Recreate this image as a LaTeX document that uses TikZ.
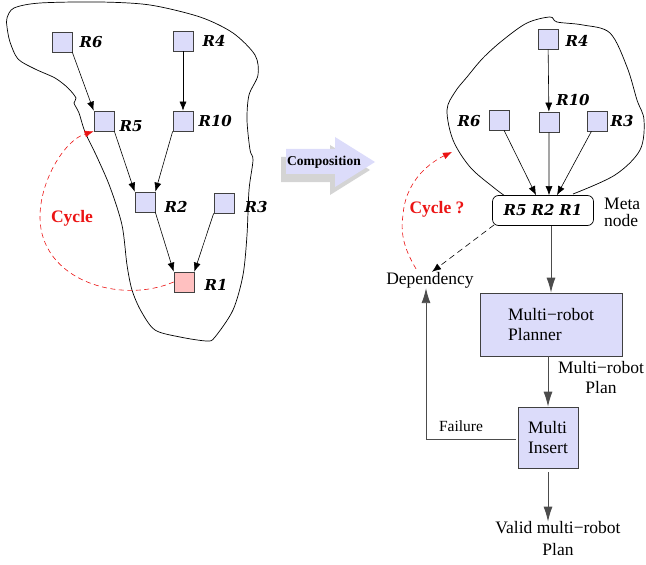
\documentclass[tikz,border=0pt]{standalone}
\usepackage{fontspec}
\setmainfont{Liberation Serif}
\newfontfamily\rfont{DejaVu Serif}
\usetikzlibrary{arrows.meta}
\definecolor{boxblue}{RGB}{220,220,250}
\definecolor{boxpink}{RGB}{255,192,192}
\definecolor{shadowgrey}{RGB}{212,212,212}
\definecolor{cycred}{RGB}{235,20,20}
\tikzset{
  rbox/.style={draw=black!75, fill=boxblue, minimum size=20bp, inner sep=0pt, line width=0.7bp},
  rlab/.style={font=\rfont\bfseries\itshape\fontsize{15bp}{17bp}\selectfont, inner sep=0pt},
  txt/.style={font=\fontsize{17.5bp}{20bp}\selectfont, inner sep=0pt, align=center},
  pbox/.style={draw=black!75, fill=boxblue, line width=0.7bp, inner sep=0pt},
  edge/.style={-{Latex[length=9bp,width=7bp]}, line width=0.6bp},
  gedge/.style={-{Latex[length=15bp,width=9bp]}, line width=0.9bp, draw=black!70},
  blob/.style={line width=0.7bp},
  cyc/.style={cycred, dashed, dash pattern=on 5bp off 3.5bp, line width=0.6bp, -{Latex[length=9bp,width=7bp]}},
}
\begin{document}
\begin{tikzpicture}[x=1bp,y=1bp]
\useasboundingbox (0,0) rectangle (646,-565);
% ---------- left blob
\draw[blob] plot[smooth cycle, tension=0.5] coordinates {
 (7,-18) (14,-8) (40,-3) (100,-2) (150,-5) (200,-17) (233,-33) (255,-55) (258,-75)
 (249,-95) (247,-120) (250,-150) (253,-160) (249,-190) (247,-235) (243,-275)
 (233,-310) (215,-337) (207,-341) (180,-337) (155,-330) (141,-311) (132,-290)
 (127,-265) (122,-225) (110,-187) (97,-157) (85,-132) (79,-113) (74,-103) (76,-98)
 (68,-88) (55,-78) (35,-69) (18,-59) (10,-42) (7,-27)};
% ---------- left nodes
\node[rbox] (R6) at (62,-42) {};
\node[rbox] (R4) at (183,-41) {};
\node[rbox] (R5) at (104,-121) {};
\node[rbox] (R10) at (183,-121) {};
\node[rbox] (R2) at (145,-202) {};
\node[rbox] (R3) at (224,-203) {};
\node[rbox, fill=boxpink] (R1) at (184,-282) {};
\node[rlab, anchor=west] (lR6) at ([xshift=7bp]R6.east) {R6};
\node[rlab, anchor=west] (lR4) at ([xshift=9bp]R4.east) {R4};
\node[rlab, anchor=west] (lR5) at ([xshift=5bp,yshift=-5bp]R5.east) {R5};
\node[rlab, anchor=west] (lR10) at ([xshift=5bp]R10.east) {R10};
\node[rlab, anchor=west] (lR2) at ([xshift=9bp,yshift=-5bp]R2.east) {R2};
\node[rlab, anchor=west] (lR3) at ([xshift=10bp,yshift=-4bp]R3.east) {R3};
\node[rlab, anchor=west] (lR1) at ([xshift=10bp,yshift=-3bp]R1.east) {R1};
\draw[edge] (R6.south east) -- (R5.north west);
\draw[edge] (R4) -- (R10);
\draw[edge] (R5.south east) -- (R2.north west);
\draw[edge] (R10.south west) -- (R2.north east);
\draw[edge] (R2.south east) -- (R1.north west);
\draw[edge] (R3.south west) -- (R1.north east);
\coordinate (cycleft) at (40,-217);
\draw[cyc] (R1.west) .. controls (120,-305) and (40,-280) .. (cycleft)
  .. controls (40,-180) and (65,-140) .. (R5.south west);
\node[txt, font=\bfseries\fontsize{17.5bp}{20bp}\selectfont, text=cycred] (cyclab) at (72,-218) {Cycle};
% ---------- composition arrow
\fill[shadowgrey] (281,-157) -- (330,-157) -- (330,-145) -- (370,-170) -- (330,-195) -- (330,-182) -- (281,-182) -- cycle;
\fill[boxblue] (286,-149) -- (335,-149) -- (335,-137) -- (375,-162) -- (335,-187) -- (335,-174) -- (286,-174) -- cycle;
\node[font=\bfseries\fontsize{13.5bp}{15bp}\selectfont, inner sep=0pt] (comp) at (324,-162) {Composition};
% ---------- right blob
\draw[blob] plot[smooth, tension=0.55] coordinates {
 (505,-196) (493,-187) (470,-167) (453,-140) (447,-110) (455,-92) (467,-77)
 (483,-58) (503,-40) (527,-23) (550,-17) (557,-22) (583,-25) (610,-33)
 (627,-67) (637,-100) (644,-120) (640,-150) (615,-175) (573,-194)};
% ---------- right nodes
\node[rbox] (S4) at (548,-39) {};
\node[rbox] (S10) at (549,-122) {};
\node[rbox] (S6) at (499,-120) {};
\node[rbox] (S3) at (597,-121) {};
\node[rlab, anchor=west] (lS4) at ([xshift=7bp,yshift=-2bp]S4.east) {R4};
\node[rlab] (lS10) at (573,-100) {R10};
\node[rlab, anchor=east] (lS6) at ([xshift=-8bp,yshift=-1bp]S6.west) {R6};
\node[rlab, anchor=west] (lS3) at ([xshift=3bp]S3.east) {R3};
\node[draw, rounded corners=6bp, line width=0.7bp, minimum width=101bp, minimum height=30bp, inner sep=0pt, fill=white] (meta) at (543,-210.5)
  {\rfont\bfseries\itshape\fontsize{15bp}{17bp}\selectfont R5\,\,R2\,\,R1};
\node[txt, align=left, anchor=west, font=\fontsize{17.5bp}{17bp}\selectfont] (metalab) at (604,-212) {Meta\\node};
\draw[edge] (S6) -- ([xshift=-7bp]meta.north);
\draw[edge] (S4) -- (S10);
\draw[edge] (S10) -- ([xshift=6bp]meta.north);
\draw[edge] (S3) -- ([xshift=14bp]meta.north);
% ---------- planner chain
\node[txt] (dep) at (430,-280) {Dependency};
\node[pbox, minimum width=142bp, minimum height=63bp, txt, align=left] (plan) at (551,-324.5) {Multi\textminus robot\\Planner};
\node[pbox, minimum width=60bp, minimum height=61bp, txt, align=left] (ins) at (548,-437.5) {Multi\\Insert};
\node[txt, align=center] (mrp) at (601,-378) {Multi\textminus robot\\Plan};
\node[txt] (valid) at (558,-528) {Valid multi\textminus robot};
\node[txt] (validp) at (558,-550) {Plan};
\node[font=\fontsize{15.5bp}{17bp}\selectfont, inner sep=0pt] (fail) at (461,-426) {Failure};
\draw[gedge] (meta.south -| plan.north) -- (plan.north);
\draw[gedge] (plan.south -| ins.north) -- (ins.north);
\draw[gedge] (ins.south) ++(0,-4) coordinate (insout) (insout) -- (valid.north -| ins.south);
\coordinate (corner) at (426,-439);
\draw[line width=0.9bp, draw=black!70, -{Latex[length=15bp,width=9bp]}] ([xshift=-2bp]ins.west |- corner) -- (corner) -- (dep.south -| corner);
\draw[edge, dashed, dash pattern=on 6bp off 4bp] ([xshift=2bp,yshift=1bp]meta.south west) -- ([xshift=2bp]dep.north);
\coordinate (cyc2left) at (403,-215);
\draw[cyc] ([xshift=-14bp,yshift=3bp]dep.north) .. controls (405,-250) and (400,-235) .. (cyc2left)
  .. controls (405,-185) and (425,-165) .. (452,-152);
\node[font=\bfseries\fontsize{17.5bp}{20bp}\selectfont, text=cycred, inner sep=0pt] (cyclab2) at (437,-209) {Cycle ?};
\end{tikzpicture}
\end{document}
